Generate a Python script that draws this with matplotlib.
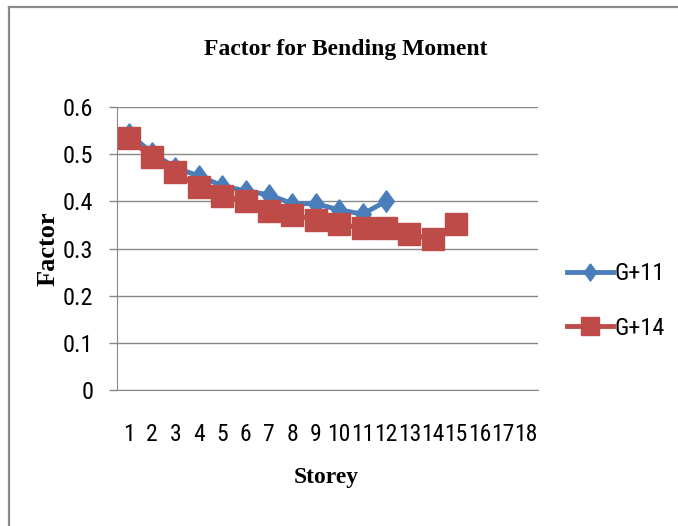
import numpy as np
import matplotlib
matplotlib.use('Agg')
import matplotlib.pyplot as plt
from matplotlib.lines import Line2D
from matplotlib import font_manager

# data
storeys = [str(i) for i in range(1, 19)]
g11_factor = [0.543, 0.503, 0.471, 0.454, 0.433, 0.422, 0.414, 0.395, 0.395, 0.382, 0.373, 0.400]
g14_factor = [0.534, 0.493, 0.462, 0.430, 0.411, 0.400, 0.380, 0.371, 0.361, 0.352, 0.343, 0.343,
              0.330, 0.320, 0.352]
y_ticks = [0, 0.1, 0.2, 0.3, 0.4, 0.5, 0.6]
y_tick_labels = ['0', '0.1', '0.2', '0.3', '0.4', '0.5', '0.6']

blue = '#4A7EBB'
red = '#BE4B48'
grid_gray = '#888888'
label_font = 'Liberation Serif'


def narrow_font(size):
    """Pick the narrowest sans font that is installed (reference uses a condensed face)."""
    fonts = font_manager.fontManager.ttflist
    names = {f.name for f in fonts}
    for name in ['Liberation Sans Narrow', 'Roboto Condensed', 'Open Sans Condensed']:
        if name in names:
            return font_manager.FontProperties(family=name, size=size)
    for f in fonts:
        if f.name == 'DejaVu Sans' and f.stretch == 'condensed' and f.style == 'normal' \
                and f.weight in (400, 'normal'):
            return font_manager.FontProperties(fname=f.fname, size=size)
    return font_manager.FontProperties(family='Roboto', size=size)


fig = plt.figure(figsize=(6.78, 5.26), dpi=100)
ax = fig.add_axes([117 / 678, 1 - 390 / 526, 421 / 678, 283 / 526])

# thin diamond like the Excel marker
diamond = [(0, 1), (0.72, 0), (0, -1), (-0.72, 0), (0, 1)]

x11 = np.arange(1, len(g11_factor) + 1)
x14 = np.arange(1, len(g14_factor) + 1)
ax.plot(x11, g11_factor, color=blue, lw=3.5, marker=diamond, ms=15.5, mec=blue, mfc=blue,
        label='G+11', zorder=3)
ax.plot(x14, g14_factor, color=red, lw=3.5, marker='s', ms=16.5, mec=red, mfc=red,
        label='G+14', zorder=4)

ax.set_xlim(0.5, len(storeys) + 0.5)
ax.set_ylim(0, 0.6)
ax.set_yticks(y_ticks)
ax.set_yticklabels(y_tick_labels, fontproperties=narrow_font(17.5))
ax.set_xticks(np.arange(1, len(storeys) + 1))
ax.set_xticklabels(storeys, fontproperties=narrow_font(17))

ax.tick_params(axis='y', length=6, width=1, color=grid_gray, pad=11)
ax.tick_params(axis='x', length=0, pad=24)

ax.yaxis.grid(True, color=grid_gray, lw=1)
ax.set_axisbelow(True)
for side in ['top', 'right']:
    ax.spines[side].set_visible(False)
ax.spines['left'].set_color(grid_gray)
ax.spines['bottom'].set_color(grid_gray)

# titles as figure text so they sit where the reference has them
fig.text(346 / 678, 1 - 50 / 526, 'Factor for Bending Moment', ha='center', va='center',
         fontfamily=label_font, fontweight='bold', fontsize=17)
fig.text(48 / 678, 1 - 249 / 526, 'Factor', ha='center', va='center', rotation=90,
         fontfamily=label_font, fontweight='bold', fontsize=19)
fig.text(326 / 678, 1 - 478 / 526, 'Storey', ha='center', va='center',
         fontfamily=label_font, fontweight='bold', fontsize=17)

ax.legend(loc='center left', bbox_to_anchor=(1.069, 0.314), frameon=False, borderpad=0,
          borderaxespad=0, handlelength=1.9, handletextpad=0.05, labelspacing=1.3,
          markerscale=0.8, prop=narrow_font(17.5))

# chart area border (left and top edges visible in the reference)
fig.add_artist(Line2D([8.5 / 678, 8.5 / 678], [0, 1 - 7.3 / 526], transform=fig.transFigure,
                      color='#8a8a8a', lw=1.6))
fig.add_artist(Line2D([8.5 / 678, 1], [1 - 7.3 / 526, 1 - 7.3 / 526], transform=fig.transFigure,
                      color='#8a8a8a', lw=1.6))

plt.savefig('out.png', dpi=100)
